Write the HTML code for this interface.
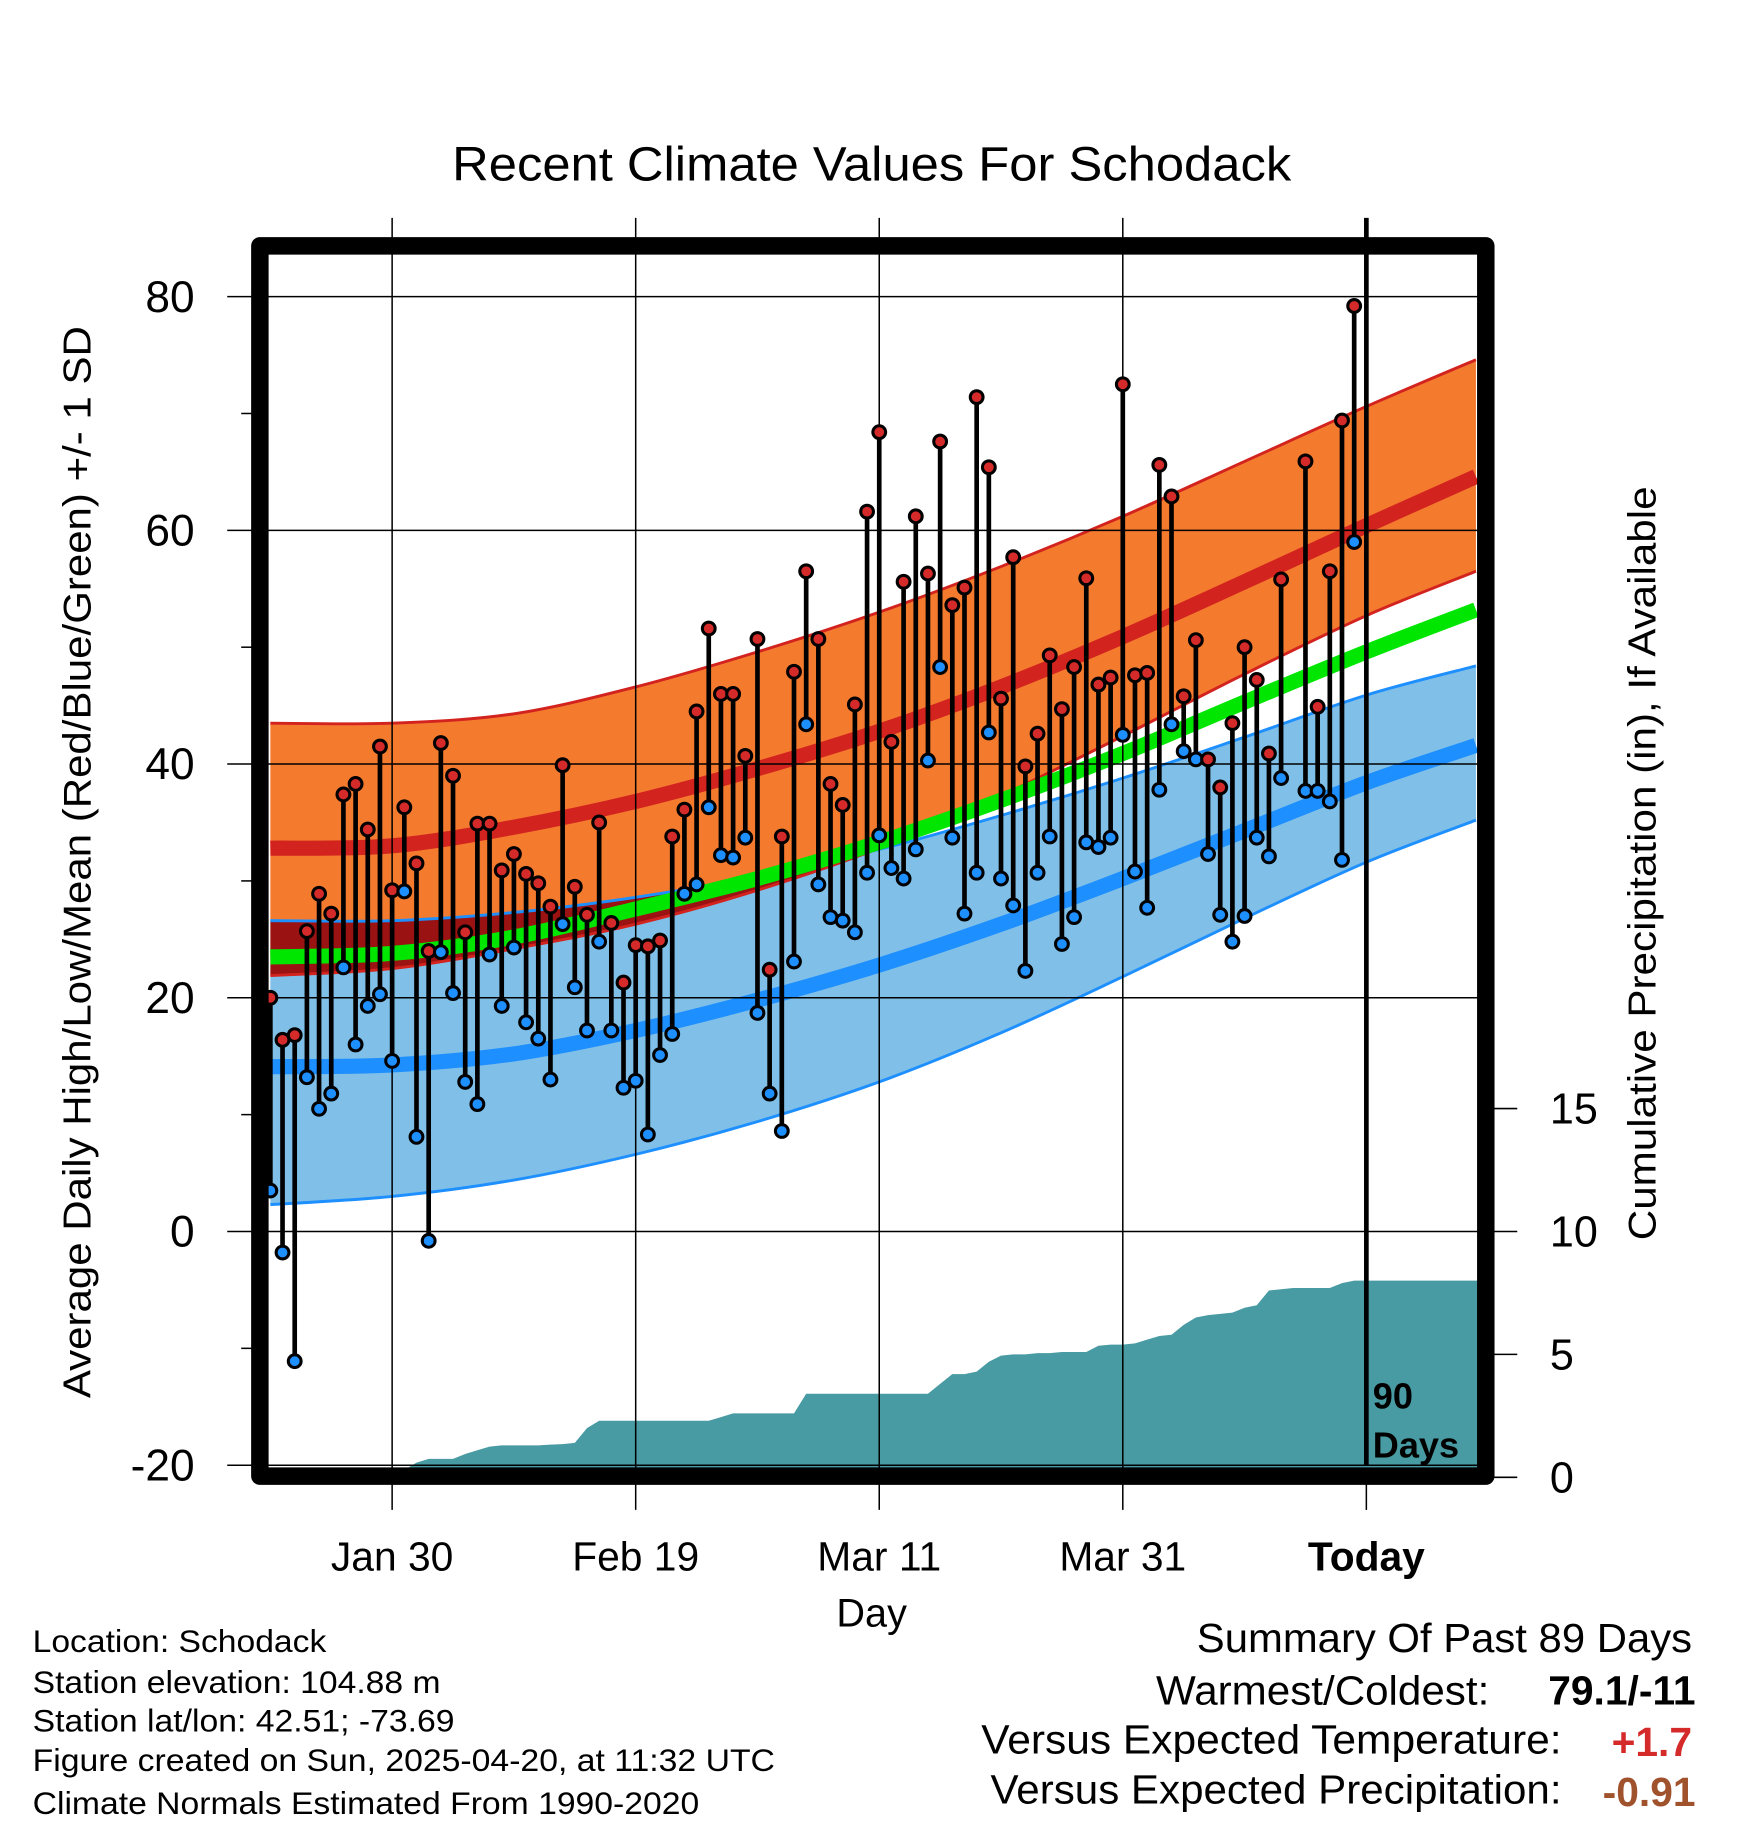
<!DOCTYPE html>
<html><head><meta charset="utf-8">
<style>
html,body{margin:0;padding:0;background:#fff;}
svg{display:block;font-family:"Liberation Sans",Arial,sans-serif;}
</style></head>
<body>
<svg id="chart" width="1748" height="1828" viewBox="0 0 1500 1569" preserveAspectRatio="none" xmlns="http://www.w3.org/2000/svg">
<defs><clipPath id="blueClip"><path id="blueClipPath" d=""/></clipPath></defs>
<g id="bands"></g>
<g id="precip"></g>
<g id="grid"></g>
<g id="data"></g>
<g id="axes"></g>
<text x="748" y="155" font-size="41" text-anchor="middle" textLength="720" lengthAdjust="spacingAndGlyphs">Recent Climate Values For Schodack</text>
<text x="0" y="0" font-size="33" text-anchor="middle" dominant-baseline="central" transform="translate(67,740) rotate(-90)" textLength="920" lengthAdjust="spacingAndGlyphs">Average Daily High/Low/Mean (Red/Blue/Green) +/- 1 SD</text>
<text x="0" y="0" font-size="33" text-anchor="middle" dominant-baseline="central" transform="translate(1410,741) rotate(-90)" textLength="647" lengthAdjust="spacingAndGlyphs">Cumulative Precipitation (in), If Available</text>
<text x="748" y="1396" font-size="34" text-anchor="middle">Day</text>
<text x="1178" y="1209" font-size="31" font-weight="bold">90</text>
<text x="1178" y="1251" font-size="31" font-weight="bold">Days</text>
<g font-size="27">
<text x="28" y="1418" textLength="252" lengthAdjust="spacingAndGlyphs">Location: Schodack</text>
<text x="28" y="1453" textLength="350" lengthAdjust="spacingAndGlyphs">Station elevation: 104.88 m</text>
<text x="28" y="1486" textLength="362" lengthAdjust="spacingAndGlyphs">Station lat/lon: 42.51; -73.69</text>
<text x="28" y="1520" textLength="637" lengthAdjust="spacingAndGlyphs">Figure created on Sun, 2025-04-20, at 11:32 UTC</text>
<text x="28" y="1557" textLength="572" lengthAdjust="spacingAndGlyphs">Climate Normals Estimated From 1990-2020</text>
</g>
<g font-size="35">
<text x="1027" y="1418" textLength="425" lengthAdjust="spacingAndGlyphs">Summary Of Past 89 Days</text>
<text x="992" y="1463" textLength="286" lengthAdjust="spacingAndGlyphs">Warmest/Coldest:</text>
<text x="1455" y="1463" text-anchor="end" font-weight="bold">79.1/-11</text>
<text x="842" y="1505" textLength="498" lengthAdjust="spacingAndGlyphs">Versus Expected Temperature:</text>
<text x="1452" y="1507" text-anchor="end" font-weight="bold" fill="#d42a2a">+1.7</text>
<text x="850" y="1548" textLength="490" lengthAdjust="spacingAndGlyphs">Versus Expected Precipitation:</text>
<text x="1455" y="1550" text-anchor="end" font-weight="bold" fill="#a0522d">-0.91</text>
</g>
</svg>
<script>
// ---- data ----
const normalDays = [0,10,20,30,40,50,60,70,80,90,99];
const highUpper = [43.5,43.5,44.3,46.6,49.6,53.0,56.9,61.2,65.9,70.6,74.6];
const highMean  = [32.8,33.0,34.6,36.8,39.6,42.8,46.6,50.9,55.6,60.4,64.6];
const highLower = [21.9,22.5,24.2,26.3,29.2,32.8,37.3,42.4,47.7,52.7,56.5];
const meanTemp  = [23.5,23.8,25.2,27.6,30.2,33.3,36.9,40.9,45.3,49.6,53.2];
const lowUpper  = [26.6,26.6,27.3,28.6,30.4,32.7,35.6,38.8,42.3,45.9,48.4];
const lowMean   = [14.1,14.25,15.2,17.2,19.8,22.8,26.3,30.2,34.3,38.4,41.6];
const lowLower  = [2.3,3.0,4.4,6.6,9.4,12.8,17.0,21.8,26.8,31.6,35.2];
const dailyHigh = [20.0,16.4,16.8,25.7,28.9,27.2,37.4,38.3,34.4,41.5,29.2,36.3,31.5,24.0,41.8,39.0,25.6,34.9,34.9,30.9,
 32.3,30.6,29.8,27.8,39.9,29.5,27.1,35.0,26.4,21.3,24.5,24.4,24.9,33.8,36.1,44.5,51.6,46.0,46.0,40.7,
 50.7,22.4,33.8,47.9,56.5,50.7,38.3,36.5,45.1,61.6,68.4,41.9,55.6,61.2,56.3,67.6,53.6,55.1,71.4,65.4,
 45.6,57.7,39.8,42.6,49.3,44.7,48.3,55.9,46.8,47.4,72.5,47.6,47.8,65.6,62.9,45.8,50.6,40.4,38.0,43.5,
 50.0,47.2,40.9,55.8,null,65.9,44.9,56.5,69.4,79.2];
const dailyLow = [3.5,-1.8,-11.1,13.2,10.5,11.8,22.6,16.0,19.3,20.3,14.6,29.1,8.1,-0.8,23.9,20.4,12.8,10.9,23.7,19.3,
 24.3,17.9,16.5,13.0,26.3,20.9,17.2,24.8,17.2,12.3,12.9,8.3,15.1,16.9,28.9,29.7,36.3,32.2,32.0,33.7,
 18.7,11.8,8.6,23.1,43.4,29.7,26.9,26.6,25.6,30.7,33.9,31.1,30.2,32.7,40.3,48.3,33.7,27.2,30.7,42.7,
 30.2,27.9,22.3,30.7,33.8,24.6,26.9,33.3,32.9,33.7,42.5,30.8,27.7,37.8,43.4,41.1,40.4,32.3,27.1,24.8,
 27.0,33.7,32.1,38.8,null,37.7,37.7,36.8,31.8,59.0];
const precipCum = [0,0,0,0,0,0,0,0,0,0,0,0.3,0.6,0.75,0.75,0.75,0.95,1.1,1.25,1.3,
 1.3,1.3,1.3,1.33,1.35,1.4,2.0,2.3,2.3,2.3,2.3,2.3,2.3,2.3,2.3,2.3,2.3,2.45,2.6,2.6,
 2.6,2.6,2.6,2.6,3.4,3.4,3.4,3.4,3.4,3.4,3.4,3.4,3.4,3.4,3.4,3.8,4.2,4.2,4.3,4.7,
 4.95,5.0,5.0,5.05,5.05,5.1,5.1,5.1,5.35,5.4,5.4,5.45,5.6,5.75,5.8,6.2,6.5,6.6,6.65,6.7,
 6.9,7.0,7.6,7.65,7.7,7.7,7.7,7.7,7.9,8.0,8.0];
const yTicks = [80,60,40,20,0,-20];
const yMinorTicks = [70,50,30,10,-10];
const precipTicks = [0,5,10,15];
const xTickDays = [10,30,50,70,90];
const xTickLabels = ["Jan 30","Feb 19","Mar 11","Mar 31","Today"];

// ---- scales ----
const X = d => 232 + d*10.45;
const Y = v => 1057 - v*10.03;
const P = p => 1268 - p*21.1;
const NS = "http://www.w3.org/2000/svg";
function mk(tag, attrs, parent){const e=document.createElementNS(NS,tag);for(const k in attrs)e.setAttribute(k,attrs[k]);parent.appendChild(e);return e;}
function pts(arr){return normalDays.map((d,i)=>[X(d),Y(arr[i])]);}
function smooth(p){let s="M"+p[0][0]+","+p[0][1];for(let i=0;i<p.length-1;i++){const p0=p[i-1]||p[i],p1=p[i],p2=p[i+1],p3=p[i+2]||p2;
 s+=" C"+(p1[0]+(p2[0]-p0[0])/6)+","+(p1[1]+(p2[1]-p0[1])/6)+" "+(p2[0]-(p3[0]-p1[0])/6)+","+(p2[1]-(p3[1]-p1[1])/6)+" "+p2[0]+","+p2[1];}return s;}
function smoothBody(p){return smooth(p).replace(/^M/,"L");}
function band(up,lo){const u=pts(up),l=pts(lo).reverse();return smooth(u)+" "+smoothBody(l)+" Z";}

const bands=document.getElementById('bands');
const blueD=band(lowUpper,lowLower);
document.getElementById('blueClipPath').setAttribute('d',blueD);
const bb=mk('path',{d:blueD,fill:'#80c0e8'},bands);


const orangeD=band(highUpper,highLower);
const ob=mk('path',{d:orangeD,fill:'#f47a2e'},bands);


const ov=mk('path',{d:orangeD,fill:'#9a1212','clip-path':'url(#blueClip)'},bands);


[[lowUpper,'#1e8fff',2.5,'low-upper-edge'],[lowLower,'#1e8fff',2.5,'low-lower-edge'],[highUpper,'#d2231f',2.5,'high-upper-edge'],[highLower,'#d2231f',2.5,'high-lower-edge'],
 [highMean,'#d2231f',13,'high-mean-line'],[lowMean,'#1e8fff',13,'low-mean-line'],[meanTemp,'#00e600',13,'mean-line']].forEach(a=>{
 const l=mk('path',{d:smooth(pts(a[0])),fill:'none',stroke:a[1],'stroke-width':a[2]},bands);
 
 
});

// precipitation
const pg=document.getElementById('precip');
let pd="M"+X(0)+","+P(0);
precipCum.forEach((v,i)=>{pd+=" L"+X(i)+","+P(v);});
pd+=" L1268,"+P(precipCum[precipCum.length-1])+" L1268,"+P(0)+" Z";
const pa=mk('path',{d:pd,fill:'#489aa3'},pg);



// grid
const grid=document.getElementById('grid');
yTicks.forEach(v=>{
 const g=mk('line',{x1:195,x2:(v===0?1302:1268),y1:Y(v),y2:Y(v),stroke:'#000','stroke-width':1.3},grid);
 
 
});
yMinorTicks.forEach(v=>{
 const g=mk('line',{x1:207,x2:218,y1:Y(v),y2:Y(v),stroke:'#000','stroke-width':1.3},grid);
 
 
});
xTickDays.forEach((d,i)=>{
 const today=i===xTickDays.length-1;
 const g=mk('line',{x1:X(d),x2:X(d),y1:187,y2:(today?1258:1296),stroke:'#000','stroke-width':today?4:1.3},grid);
 
 
 if(today){const t=mk('line',{x1:X(d),x2:X(d),y1:1270,y2:1296,stroke:'#000','stroke-width':1.3},grid);
  
  }
});

// daily data
const dg=document.getElementById('data');
dailyHigh.forEach((h,i)=>{
 const l=dailyLow[i]; if(h===null||l===null)return;
 const s=mk('line',{x1:X(i),x2:X(i),y1:Y(h),y2:Y(l),stroke:'#000','stroke-width':4},dg);
 
 
});
dailyHigh.forEach((h,i)=>{
 const l=dailyLow[i]; if(h===null||l===null)return;
 const a=mk('circle',{cx:X(i),cy:Y(l),r:5.5,fill:'#1e8fff',stroke:'#000','stroke-width':2.6},dg);
 
 
 const b=mk('circle',{cx:X(i),cy:Y(h),r:5.5,fill:'#d42a2a',stroke:'#000','stroke-width':2.6},dg);
 
 
});

// axes
const ax=document.getElementById('axes');
const fr=mk('rect',{x:223,y:211,width:1052,height:1056,fill:'none',stroke:'#000','stroke-width':15,'stroke-linejoin':'round'},ax);


yTicks.forEach(v=>{
 const t=mk('text',{x:167,y:Y(v)+13,'font-size':38,'text-anchor':'end'},ax);
 t.textContent=String(v);
 
 
});
precipTicks.forEach(p=>{
 if(p!==10){const k=mk('line',{x1:1282,x2:1302,y1:P(p),y2:P(p),stroke:'#000','stroke-width':1.3},ax);
  
  }
 const t=mk('text',{x:1330,y:P(p)+13,'font-size':37},ax);
 t.textContent=String(p);
 
 
});
xTickDays.forEach((d,i)=>{
 const t=mk('text',{x:X(d),y:1348,'font-size':35,'text-anchor':'middle','font-weight':(i===4?'bold':'normal')},ax);
 t.textContent=xTickLabels[i];
 
 
});
</script>
</body></html>
